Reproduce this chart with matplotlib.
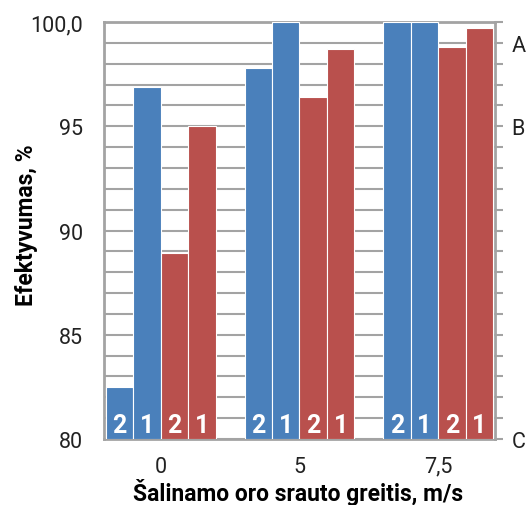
import matplotlib.pyplot as plt
import numpy as np

plt.rcParams['font.family'] = ['Roboto', 'DejaVu Sans']

groups = ['0', '5', '7,5']
blue_2 = [82.5, 97.8, 100.0]
blue_1 = [96.9, 100.0, 100.0]
red_2 = [88.9, 96.4, 98.8]
red_1 = [95.0, 98.7, 99.7]
series = [blue_2, blue_1, red_2, red_1]
bar_labels = ['2', '1', '2', '1']
y_ticks = [80, 85, 90, 95, 100]
y_ticklabels = ['80', '85', '90', '95', '100,0']
right_ticks = [80, 95, 99]
right_labels = ['C', 'B', 'A']

blue = '#4a80bb'
red = '#b9504d'
gray = '#a3a3a3'
colors = [blue, blue, red, red]

fig = plt.figure(figsize=(5.27, 5.06), dpi=100)
ax = fig.add_axes([0.1973, 0.1304, 0.742, 0.824])

x = np.arange(len(groups))
w = 0.198
for i, vals in enumerate(series):
    pos = x + (i - 1.5) * w
    ax.bar(pos, np.array(vals) - 80, width=w, bottom=80, color=colors[i],
           edgecolor='white', linewidth=0.8, zorder=3)
    for p in pos:
        ax.text(p, 80.65, bar_labels[i], color='white', fontsize=18,
                fontweight='bold', ha='center', va='center', zorder=4)

ax.set_ylim(80, 100)
ax.set_xlim(-0.41, 2.41)
ax.set_yticks(np.arange(80, 101, 1), minor=True)
ax.set_yticks(y_ticks)
ax.set_yticklabels(y_ticklabels, fontsize=15.5, color='#222222')
ax.set_xticks(x)
ax.set_xticklabels(groups, fontsize=15.5, color='#222222')
ax.tick_params(axis='y', which='both', length=0, pad=15)
ax.tick_params(axis='x', which='both', length=0, pad=12)
ax.grid(axis='y', which='both', color=gray, linewidth=1.5, zorder=0)

for s in ax.spines.values():
    s.set_color(gray)
    s.set_linewidth(2)

ax2 = ax.twinx()
ax2.set_ylim(80, 100)
ax2.set_yticks(np.arange(80, 101, 1), minor=True)
ax2.set_yticks(right_ticks)
ax2.set_yticklabels(right_labels, fontsize=15.5, color='#222222')
ax2.tick_params(axis='y', which='both', direction='out', length=6,
                width=1.5, color=gray, pad=6)
for s in ax2.spines.values():
    s.set_visible(False)

fig.text(27 / 527, 1 - 225 / 506, 'Efektyvumas, %', rotation=90,
         fontsize=16.5, fontweight='bold', ha='center', va='center')
fig.text(298 / 527, 1 - 493 / 506, 'Šalinamo oro srauto greitis, m/s',
         fontsize=16.5, fontweight='bold', ha='center', va='center')

fig.savefig('out.png', dpi=100)
